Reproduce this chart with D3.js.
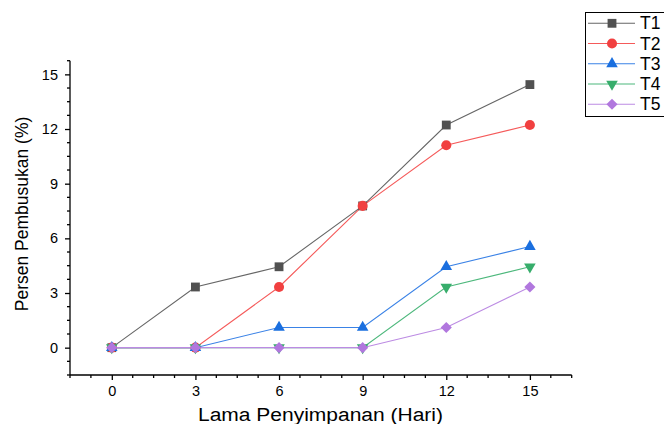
<!DOCTYPE html>
<html lang="en">
<head>
    <meta charset="UTF-8">
    <title>Persen Pembusukan</title>
    <script src="https://d3js.org/d3.v7.min.js"></script>
    <style>
        body { margin: 0; background: #fff; }
        svg { display: block; font-family: "Liberation Sans", Arial, sans-serif; }
        .axis path, .axis line { stroke: #000; stroke-width: 1.3px; }
        .axis text { font-size: 14.5px; fill: #000; }
    </style>
</head>
<body>
    <svg id="chart" width="664" height="424"></svg>
    <script>
        // Data
        const days = [0, 3, 6, 9, 12, 15];
        const seriesNames = ["T1", "T2", "T3", "T4", "T5"];
        const t1 = [0, 3.33, 4.44, 7.78, 12.22, 14.44];
        const t2 = [0, 0, 3.33, 7.78, 11.11, 12.22];
        const t3 = [0, 0, 1.11, 1.11, 4.44, 5.55];
        const t4 = [0, 0, 0, 0, 3.33, 4.44];
        const t5 = [0, 0, 0, 0, 1.11, 3.33];
        const xTicks = [0, 3, 6, 9, 12, 15];
        const yTicks = [0, 3, 6, 9, 12, 15];

        const colors = ["#515151", "#F14040", "#1A6FDF", "#37AD6B", "#B177DE"];
        const lineColors = ["#666666", "#F55A5A", "#3A82E6", "#4DB87C", "#BC8BE3"];
        const allSeries = [t1, t2, t3, t4, t5];

        const svg = d3.select("#chart");
        const plotLeft = 70, plotRight = 571.7, plotTop = 60.7, plotBottom = 375;

        const x = d3.scaleLinear().domain([-1.5, 16.5]).range([plotLeft, plotRight]);
        const y = d3.scaleLinear().domain([-1.5, 15.75]).range([plotBottom, plotTop]);

        // minor ticks every 0.75
        const minorX = d3.range(-1.5, 16.5 + 0.01, 0.75).filter(v => !xTicks.includes(v));
        const minorY = d3.range(-1.5, 15.75 + 0.01, 0.75).filter(v => !yTicks.includes(v));

        const gx = svg.append("g").attr("class", "axis")
            .attr("transform", `translate(0,${plotBottom})`)
            .call(d3.axisBottom(x).tickValues(xTicks).tickSize(5).tickPadding(6).tickFormat(d3.format("d")));
        gx.select(".domain").attr("d", `M${plotLeft},0H${plotRight}`);
        gx.selectAll(".minor").data(minorX).enter().append("line")
            .attr("x1", d => x(d)).attr("x2", d => x(d)).attr("y1", 0).attr("y2", 3)
            .attr("stroke", "#000").attr("stroke-width", 1.3);

        const gy = svg.append("g").attr("class", "axis")
            .attr("transform", `translate(${plotLeft},0)`)
            .call(d3.axisLeft(y).tickValues(yTicks).tickSize(5).tickPadding(7).tickFormat(d3.format("d")));
        gy.select(".domain").attr("d", `M0,${plotTop}V${plotBottom}`);
        gy.selectAll(".minor").data(minorY).enter().append("line")
            .attr("y1", d => y(d)).attr("y2", d => y(d)).attr("x1", 0).attr("x2", -3)
            .attr("stroke", "#000").attr("stroke-width", 1.3);

        // axis titles (the original looks slightly stretched sideways)
        svg.append("text")
            .attr("x", 198).attr("y", 421)
            .attr("font-size", 18)
            .attr("textLength", 245).attr("lengthAdjust", "spacingAndGlyphs")
            .text("Lama Penyimpanan (Hari)");
        svg.append("text")
            .attr("transform", "translate(28,214) rotate(-90)")
            .attr("text-anchor", "middle").attr("font-size", 17.5)
            .text("Persen Pembusukan (%)");

        // marker shapes: square, circle, up triangle, down triangle, diamond
        const markers = [
            { type: d3.symbolSquare, size: 78, rot: 0 },
            { type: d3.symbolCircle, size: 80, rot: 0 },
            { type: d3.symbolTriangle, size: 58, rot: 0 },
            { type: d3.symbolTriangle, size: 58, rot: 180 },
            { type: d3.symbolSquare, size: 62, rot: 45 }
        ];
        const markerPath = i => d3.symbol(markers[i].type, markers[i].size)();

        const line = d3.line().x((d, j) => x(days[j])).y(d => y(d));

        allSeries.forEach((vals, i) => {
            svg.append("path")
                .attr("d", line(vals))
                .attr("fill", "none")
                .attr("stroke", lineColors[i])
                .attr("stroke-width", 1.1);
        });
        allSeries.forEach((vals, i) => {
            svg.selectAll(".m" + i).data(vals).enter().append("path")
                .attr("d", markerPath(i))
                .attr("transform", (d, j) => `translate(${x(days[j])},${y(d)}) rotate(${markers[i].rot})`)
                .attr("fill", colors[i]);
        });

        // legend
        const lg = svg.append("g");
        lg.append("rect").attr("x", 585.5).attr("y", 12.5).attr("width", 90).attr("height", 104)
            .attr("fill", "#fff").attr("stroke", "#000").attr("stroke-width", 1);
        seriesNames.forEach((name, i) => {
            const ly = 23.3 + i * 20.25;
            lg.append("line").attr("x1", 588).attr("x2", 635).attr("y1", ly).attr("y2", ly)
                .attr("stroke", lineColors[i]).attr("stroke-width", 1.1);
            lg.append("path").attr("d", markerPath(i))
                .attr("transform", `translate(612,${ly}) rotate(${markers[i].rot})`)
                .attr("fill", colors[i]);
            lg.append("text").attr("x", 640).attr("y", ly + 6).attr("font-size", 17.5).text(name);
        });
    </script>
</body>
</html>
